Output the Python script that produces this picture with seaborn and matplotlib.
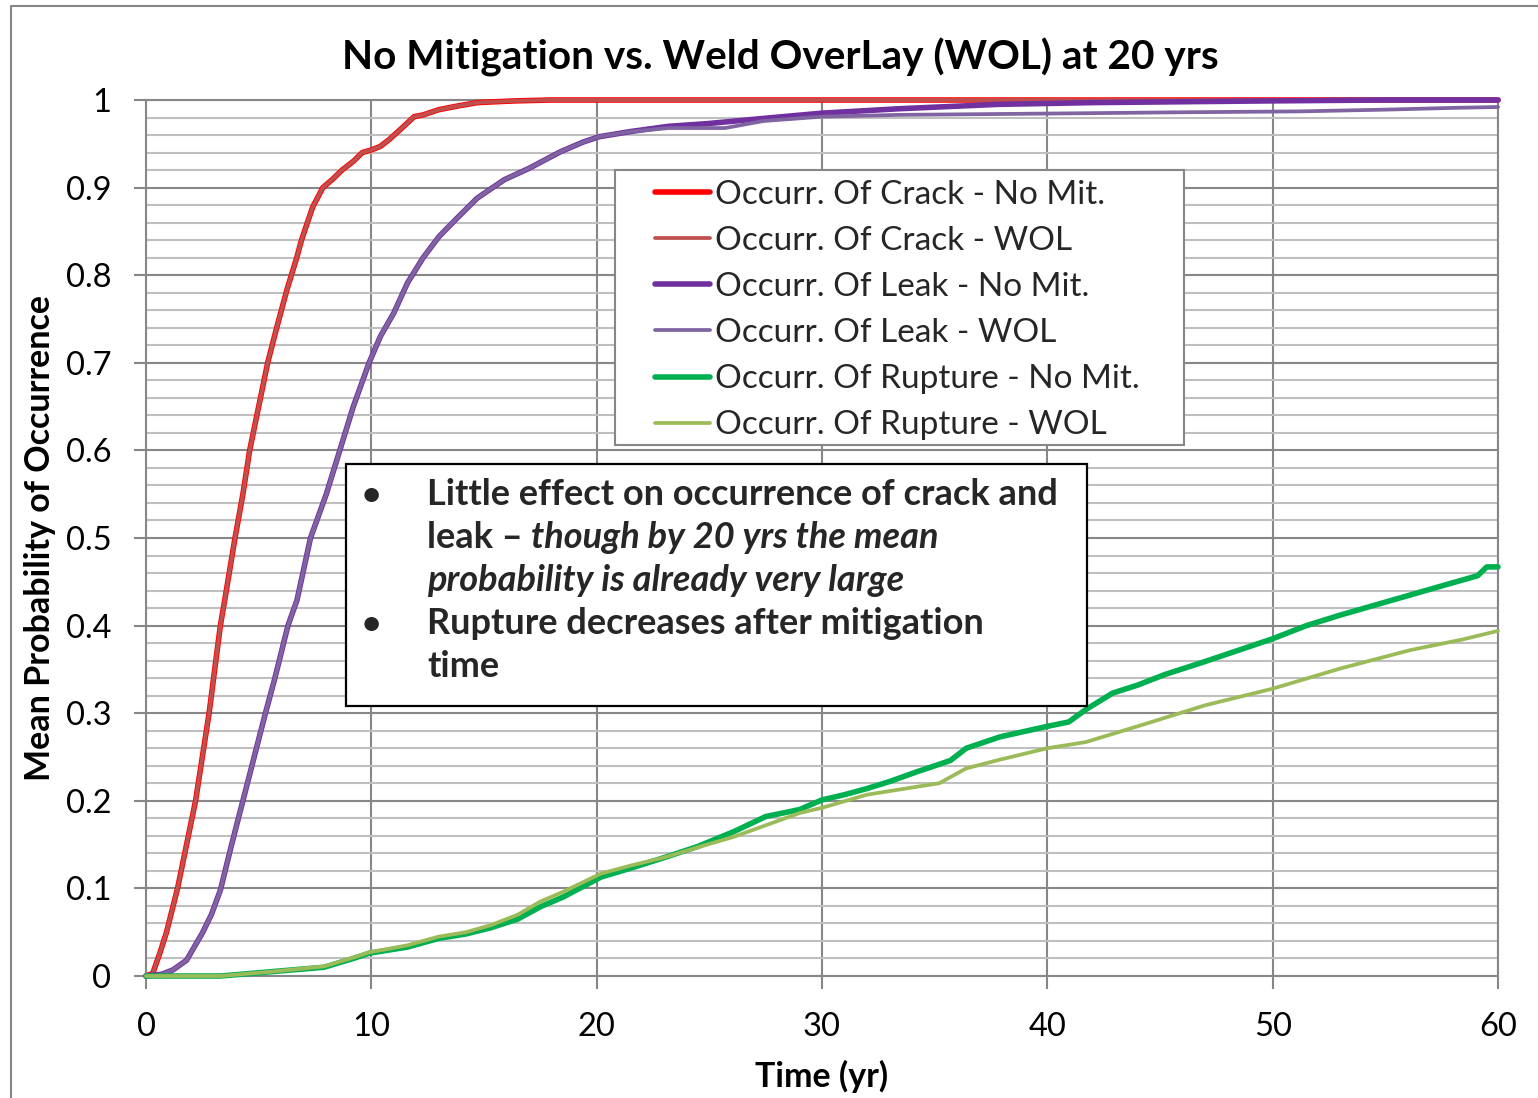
import matplotlib
matplotlib.use("Agg")
import matplotlib.pyplot as plt
import seaborn as sns
import pandas as pd
from matplotlib.lines import Line2D
from matplotlib.patches import Rectangle
from matplotlib.ticker import MultipleLocator, FixedLocator

# ---- mean probability of occurrence vs. time (yr) ----
crack_nomit_t = [0, 0.3, 0.6, 0.9, 1.4, 1.8, 2.2, 2.5, 2.8, 3.05, 3.3, 3.5, 3.95, 4.3, 4.6, 5.0,
                 5.4, 5.8, 6.25, 6.7, 6.9, 7.4, 7.85, 8.3, 8.7, 9.2, 9.6, 10.0, 10.4, 10.8, 11.1,
                 11.4, 11.9, 12.3, 13.0, 13.8, 14.7, 15.5, 16.4, 18.0, 60.0]
crack_nomit_p = [0, 0.003, 0.025, 0.049, 0.10, 0.15, 0.20, 0.25, 0.30, 0.35, 0.40, 0.43, 0.50, 0.55,
                 0.60, 0.65, 0.70, 0.74, 0.783, 0.821, 0.84, 0.878, 0.90, 0.91, 0.92, 0.93, 0.94,
                 0.943, 0.947, 0.955, 0.962, 0.969, 0.981, 0.983, 0.989, 0.993, 0.997, 0.998, 0.999,
                 1.0, 1.0]

crack_wol_t = [0, 0.3, 0.6, 0.9, 1.4, 1.8, 2.2, 2.5, 2.8, 3.05, 3.3, 3.5, 3.95, 4.3, 4.6, 5.0,
               5.4, 5.8, 6.25, 6.7, 6.9, 7.4, 7.85, 8.3, 8.7, 9.2, 9.6, 10.0, 10.4, 10.8, 11.1,
               11.4, 11.9, 12.3, 13.0, 13.8, 14.7, 15.5, 16.4, 18.0, 60.0]
crack_wol_p = [0, 0.003, 0.025, 0.049, 0.10, 0.15, 0.20, 0.25, 0.30, 0.35, 0.40, 0.43, 0.50, 0.55,
               0.60, 0.65, 0.70, 0.74, 0.783, 0.821, 0.84, 0.878, 0.90, 0.91, 0.92, 0.93, 0.94,
               0.943, 0.947, 0.955, 0.962, 0.969, 0.981, 0.983, 0.989, 0.993, 0.997, 0.998, 0.999,
               1.0, 1.0]

leak_nomit_t = [0, 0.7, 1.2, 1.8, 2.5, 2.9, 3.3, 3.8, 4.3, 4.8, 5.3, 5.7, 6.3, 6.7, 7.3, 8.0, 8.6,
                9.2, 9.9, 10.4, 11.0, 11.6, 12.3, 13.0, 13.8, 14.7, 15.9, 17.0, 18.4, 19.4, 20.1,
                21.5, 23.2, 24.9, 27.4, 30.0, 33.4, 37.8, 42.0, 46.0, 50.0, 55.0, 60.0]
leak_nomit_p = [0, 0.002, 0.007, 0.018, 0.049, 0.07, 0.098, 0.15, 0.20, 0.25, 0.30, 0.338, 0.40,
                0.429, 0.50, 0.55, 0.60, 0.65, 0.70, 0.73, 0.757, 0.791, 0.82, 0.844, 0.865, 0.888,
                0.909, 0.922, 0.941, 0.952, 0.958, 0.964, 0.970, 0.973, 0.979, 0.985, 0.990, 0.995,
                0.997, 0.998, 0.999, 1.0, 1.0]

leak_wol_t = [0, 0.7, 1.2, 1.8, 2.5, 2.9, 3.3, 3.8, 4.3, 4.8, 5.3, 5.7, 6.3, 6.7, 7.3, 8.0, 8.6,
              9.2, 9.9, 10.4, 11.0, 11.6, 12.3, 13.0, 13.8, 14.7, 15.9, 17.0, 18.4, 19.4, 20.1,
              21.5, 23.2, 25.7, 27.4, 30.0, 33.4, 37.8, 42.0, 46.0, 51.2, 55.0, 58.0, 60.0]
leak_wol_p = [0, 0.002, 0.007, 0.018, 0.049, 0.07, 0.098, 0.15, 0.20, 0.25, 0.30, 0.338, 0.40,
              0.429, 0.50, 0.55, 0.60, 0.65, 0.70, 0.73, 0.757, 0.791, 0.82, 0.844, 0.865, 0.888,
              0.909, 0.922, 0.941, 0.952, 0.958, 0.964, 0.968, 0.968, 0.976, 0.981, 0.983, 0.984,
              0.985, 0.986, 0.987, 0.989, 0.991, 0.992]

rupture_nomit_t = [0, 3.3, 5.6, 7.9, 9.2, 9.9, 11.6, 13.0, 14.2, 15.3, 16.5, 17.5, 18.5, 20.2, 21.5,
                   23.1, 24.5, 26.1, 27.5, 29.0, 30.0, 31.0, 32.0, 33.0, 34.2, 35.7, 36.4, 37.9,
                   40.0, 40.95, 41.7, 42.9, 44.0, 45.2, 47.0, 48.5, 50.0, 51.5, 53.0, 55.3, 57.6,
                   59.1, 59.5, 60.0]
rupture_nomit_p = [0, 0, 0.005, 0.01, 0.02, 0.026, 0.033, 0.043, 0.048, 0.055, 0.065, 0.079, 0.09,
                   0.113, 0.123, 0.136, 0.148, 0.165, 0.182, 0.19, 0.201, 0.207, 0.214, 0.222,
                   0.233, 0.246, 0.26, 0.273, 0.285, 0.29, 0.304, 0.323, 0.332, 0.344, 0.359,
                   0.372, 0.385, 0.400, 0.412, 0.429, 0.446, 0.457, 0.467, 0.467]

rupture_wol_t = [0, 3.3, 5.6, 7.9, 9.2, 9.9, 11.6, 13.0, 14.2, 15.3, 16.5, 17.5, 18.5, 20.2, 21.5,
                 23.1, 24.5, 26.1, 27.5, 29.0, 30.0, 32.0, 34.2, 35.2, 36.4, 37.9, 40.0, 41.7,
                 44.0, 47.0, 50.0, 53.0, 56.1, 58.4, 60.0]
rupture_wol_p = [0, 0, 0.005, 0.011, 0.021, 0.027, 0.035, 0.045, 0.05, 0.058, 0.07, 0.085, 0.096,
                 0.117, 0.126, 0.136, 0.147, 0.159, 0.172, 0.186, 0.192, 0.207, 0.216, 0.22,
                 0.237, 0.247, 0.26, 0.267, 0.285, 0.309, 0.328, 0.351, 0.372, 0.384, 0.394]

series_labels = ["Occurr. Of Crack - No Mit.", "Occurr. Of Crack - WOL",
                 "Occurr. Of Leak - No Mit.", "Occurr. Of Leak - WOL",
                 "Occurr. Of Rupture - No Mit.", "Occurr. Of Rupture - WOL"]
series_colors = ["#FF0000", "#C0504D", "#7030A0", "#8064A2", "#00B050", "#9BBB59"]
series_widths = [4.0, 2.7, 4.0, 2.7, 4.0, 2.7]
series_data = [(crack_nomit_t, crack_nomit_p), (crack_wol_t, crack_wol_p),
               (leak_nomit_t, leak_nomit_p), (leak_wol_t, leak_wol_p),
               (rupture_nomit_t, rupture_nomit_p), (rupture_wol_t, rupture_wol_p)]

x_ticks = [0, 10, 20, 30, 40, 50, 60]
y_ticks = [0, 0.1, 0.2, 0.3, 0.4, 0.5, 0.6, 0.7, 0.8, 0.9, 1.0]
y_tick_labels = ["0", "0.1", "0.2", "0.3", "0.4", "0.5", "0.6", "0.7", "0.8", "0.9", "1"]

title_text = "No Mitigation vs. Weld OverLay (WOL) at 20 yrs"
note_lines = [
    ("•", [("Little effect on occurrence of crack and", "normal")]),
    ("", [("leak – ", "normal"), ("though by 20 yrs the mean", "italic")]),
    ("", [("probability is already very large", "italic")]),
    ("•", [("Rupture decreases after mitigation", "normal")]),
    ("", [("time", "normal")]),
]

sns.set_theme(style="white")
plt.rcParams["font.family"] = ["Lato", "DejaVu Sans"]

W, H = 1538, 1098
fig = plt.figure(figsize=(W / 100, H / 100), dpi=100)
fig.patch.set_facecolor("white")


def fx(px):
    return px / W


def fy(py):
    return 1 - py / H


GRID_MAJOR = "#878787"
GRID_MINOR = "#BFBFBF"

ax = fig.add_axes([fx(146), fy(976), fx(1498) - fx(146), fy(100) - fy(976)])
ax.set_facecolor("white")

for (t, p), lab, col, lw in zip(series_data, series_labels, series_colors, series_widths):
    df = pd.DataFrame({"t": t, "p": p})
    sns.lineplot(data=df, x="t", y="p", ax=ax, color=col, linewidth=lw, estimator=None,
                 sort=False, label=lab, legend=False, clip_on=False, zorder=3)

ax.set_xlim(0, 60)
ax.set_ylim(0, 1)
ax.xaxis.set_major_locator(FixedLocator(x_ticks))
ax.yaxis.set_major_locator(FixedLocator(y_ticks))
ax.set_yticklabels(y_tick_labels)
ax.yaxis.set_minor_locator(MultipleLocator(0.02))

ax.set_axisbelow(True)
ax.grid(which="major", axis="both", color=GRID_MAJOR, linewidth=1.5)
ax.grid(which="minor", axis="y", color=GRID_MINOR, linewidth=1.5)
for s in ax.spines.values():
    s.set_color(GRID_MAJOR)
    s.set_linewidth(1.5)

ax.tick_params(axis="both", which="major", direction="out", length=9, width=1.5,
               color=GRID_MAJOR, labelsize=23.5, labelcolor="black")
ax.tick_params(axis="y", which="major", pad=16, left=True)
ax.tick_params(axis="x", which="major", pad=17, bottom=True)
ax.tick_params(which="minor", length=0)

ax.set_xlabel("Time (yr)", fontsize=24.5, fontweight="bold", color="black")
ax.set_ylabel("Mean Probability of Occurrence", fontsize=24.5, fontweight="bold", color="black")
ax.xaxis.set_label_coords((822 - 146) / 1352, (976 - 1076) / 876)
ax.xaxis.label.set_va("center")
ax.yaxis.set_label_coords((40 - 146) / 1352, 0.5)
ax.yaxis.label.set_va("center")

ax.set_title(title_text, fontsize=29.2, fontweight="bold", color="black", pad=0,
             x=(780 - 146) / 1352, y=(976 - 57) / 876, va="center")

# legend
LEG_FS = 24
fontpx = LEG_FS * 100 / 72
handles = [Line2D([], [], color=c, linewidth=w) for c, w in zip(series_colors, series_widths)]


def make_legend(spacing, top_px):
    return ax.legend(handles, series_labels, loc="upper left",
                     bbox_to_anchor=(fx(655), fy(top_px)), bbox_transform=fig.transFigure,
                     fontsize=LEG_FS, frameon=False, borderpad=0, borderaxespad=0,
                     handlelength=55 / fontpx, handletextpad=5 / fontpx, labelspacing=spacing)


leg = make_legend(0.0, 175)
fig.canvas.draw()
renderer = fig.canvas.get_renderer()
ys = [tx.get_window_extent(renderer).y0 for tx in leg.get_texts()]
row_h = (ys[0] - ys[-1]) / (len(ys) - 1)
leg.remove()
spacing = (46.2 - row_h) / fontpx
leg = make_legend(spacing, 194.5 - row_h / 2)
fig.add_artist(Rectangle((fx(615), fy(445)), fx(1184) - fx(615), fy(170) - fy(445),
                         transform=fig.transFigure, facecolor="white", edgecolor=GRID_MAJOR,
                         linewidth=1.5, zorder=4))
leg.set_zorder(5)
leg.remove()
fig.add_artist(leg)

# annotation box
fig.add_artist(Rectangle((fx(346), fy(706)), fx(1087) - fx(346), fy(464) - fy(706),
                         transform=fig.transFigure, facecolor="white", edgecolor="black",
                         linewidth=1.6, zorder=6))
baselines = [505, 548, 591, 634, 677]
NOTE_FS = 26
for (bullet, parts), base in zip(note_lines, baselines):
    if bullet:
        fig.text(fx(371.5), fy(base), bullet, fontsize=NOTE_FS - 2, fontweight="bold",
                 ha="center", va="baseline", zorder=7)
    xpos = 427
    for txt, style in parts:
        t_obj = fig.text(fx(xpos), fy(base), txt, fontsize=NOTE_FS, fontweight="bold",
                         fontstyle=style, ha="left", va="baseline", zorder=7)
        xpos += t_obj.get_window_extent(renderer).width

# outer chart border
fig.add_artist(Line2D([fx(11), fx(11), fx(1545)], [fy(1105), fy(6), fy(6)],
                      transform=fig.transFigure, color=GRID_MAJOR, linewidth=1.5))

fig.savefig("out.png", dpi=100, facecolor="white")
